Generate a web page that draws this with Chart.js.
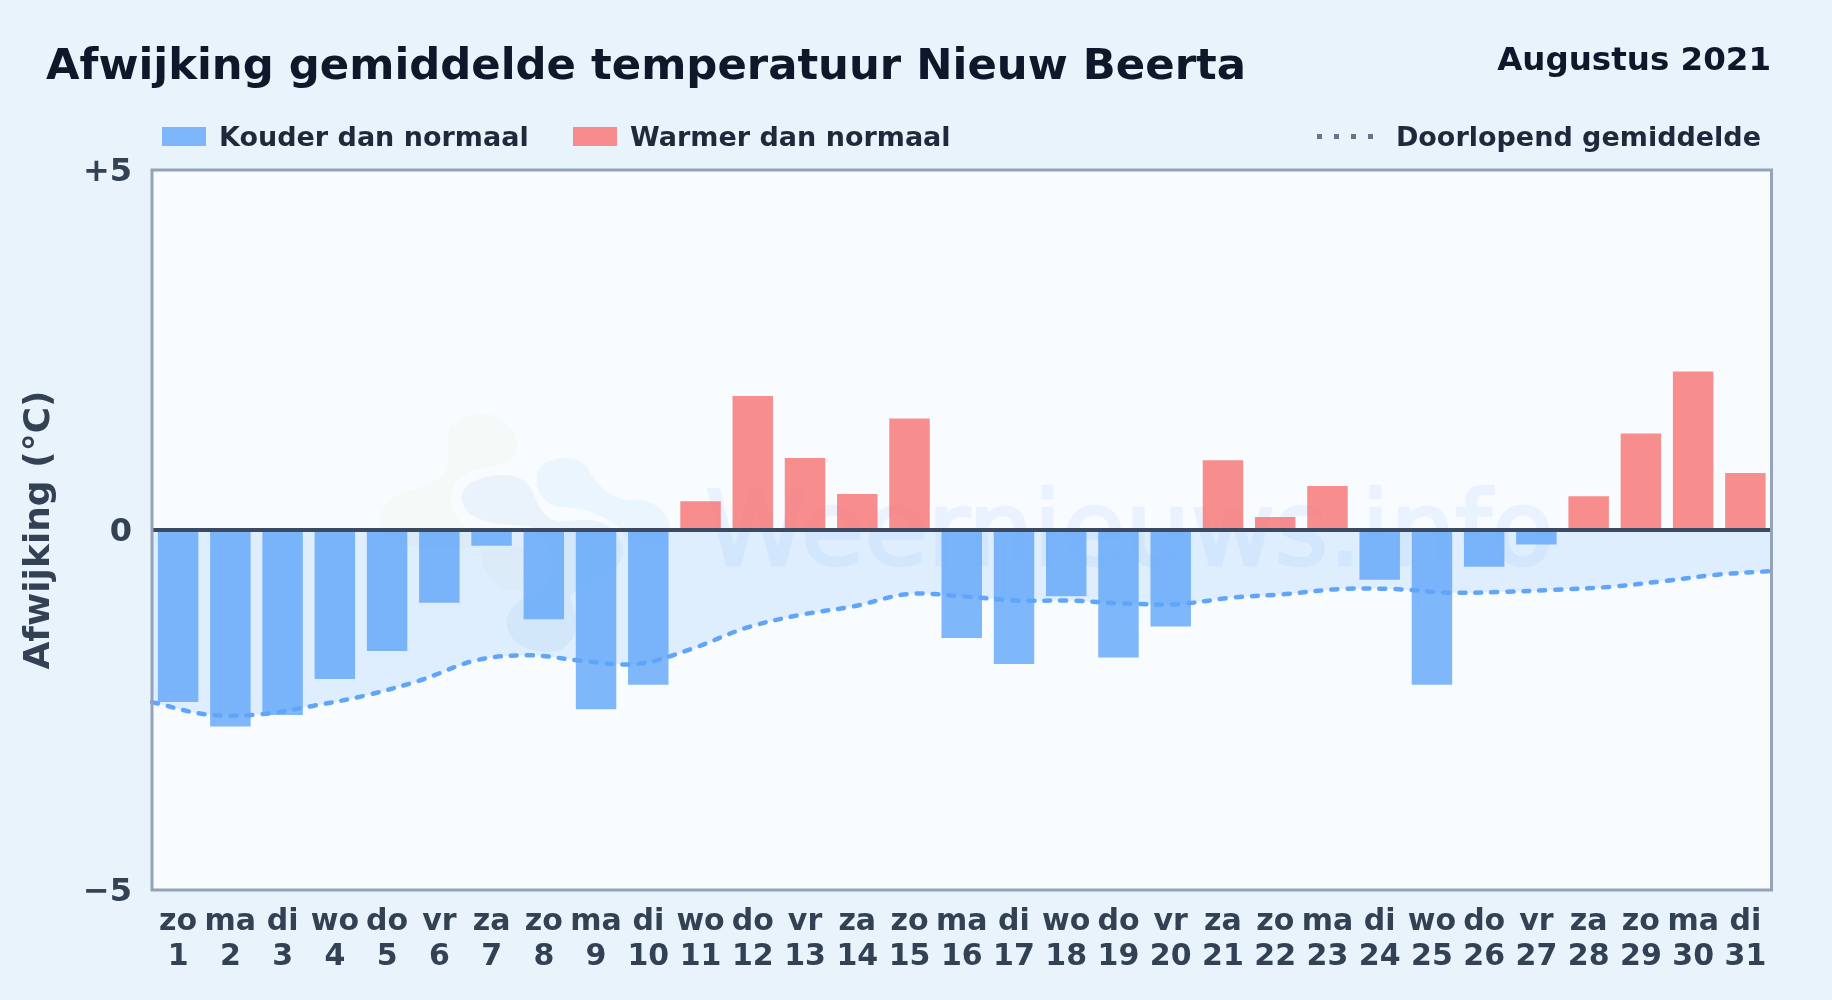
<!DOCTYPE html>
<html>
<head>
<meta charset="utf-8">
<script src="https://cdn.jsdelivr.net/npm/chart.js@4"></script>
<style>
  html, body { margin: 0; padding: 0; }
  body { width: 1832px; height: 1000px; overflow: hidden; background: #e8f3fc; font-family: "DejaVu Sans", sans-serif; font-weight: bold; position: relative; }
  #wrap { position: absolute; left: 0; top: 0; width: 1832px; height: 1000px; }
  .txt { position: absolute; white-space: nowrap; line-height: 1; }
  #title { left: 46px; top: 43px; font-size: 43.35px; color: #0f172a; }
  #period { right: 61px; top: 43px; font-size: 32.5px; color: #0f172a; }
  .lg { top: 122.5px; font-size: 27px; color: #1e293b; }
  .swatch { position: absolute; top: 127px; height: 19px; width: 44px; }
  #dots { position: absolute; left: 1317px; top: 134px; width: 56px; height: 5px;
    background: repeating-linear-gradient(90deg, #64748b 0 5px, transparent 5px 17px); }
</style>
</head>
<body>
<div id="wrap"><canvas id="chart" width="1832" height="1000"></canvas></div>
<div class="txt" id="title">Afwijking gemiddelde temperatuur Nieuw Beerta</div>
<div class="txt" id="period">Augustus 2021</div>
<div class="swatch" style="left:162px;background:#7eb6fb"></div>
<div class="txt lg" style="left:219px">Kouder dan normaal</div>
<div class="swatch" style="left:573px;background:#f88c8d"></div>
<div class="txt lg" style="left:630px">Warmer dan normaal</div>
<div id="dots"></div>
<div class="txt lg" style="right:71px">Doorlopend gemiddelde</div>
<script>
const weekdays = ['zo','ma','di','wo','do','vr','za','zo','ma','di','wo','do','vr','za','zo','ma','di','wo','do','vr','za','zo','ma','di','wo','do','vr','za','zo','ma','di']
const days = ['1','2','3','4','5','6','7','8','9','10','11','12','13','14','15','16','17','18','19','20','21','22','23','24','25','26','27','28','29','30','31']
const deviation = [-2.39,-2.73,-2.57,-2.07,-1.68,-1.01,-0.22,-1.24,-2.49,-2.15,0.4,1.86,1.0,0.5,1.55,-1.5,-1.86,-0.92,-1.77,-1.34,0.97,0.18,0.61,-0.69,-2.15,-0.51,-0.2,0.47,1.34,2.2,0.79]
const runningMean = [-2.39,-2.56,-2.56,-2.44,-2.29,-2.08,-1.81,-1.74,-1.82,-1.86,-1.65,-1.36,-1.18,-1.06,-0.89,-0.92,-0.98,-0.98,-1.02,-1.03,-0.94,-0.89,-0.82,-0.82,-0.87,-0.86,-0.83,-0.79,-0.71,-0.62,-0.57]

const labels = weekdays.map((d, i) => [d, days[i]])

// logo blobs behind the bars
function drawLogo(ctx) {
    ctx.save()
    ctx.translate(360, 390)
    ctx.scale(1 / 3, 1 / 3)
    ctx.fillStyle = 'rgba(190,225,150,0.07)'
    ctx.fill(new Path2D('M60,380 C70,310 170,300 230,270 C280,240 260,180 265,130 C275,80 350,60 400,75 C460,95 490,170 460,205 C430,240 330,220 285,280 C250,340 290,390 340,430 C370,480 360,520 380,550 C400,590 450,610 490,600 L500,470 C380,470 250,480 150,470 C80,450 55,420 60,380 Z'))
    ctx.fillStyle = 'rgba(100,150,210,0.09)'
    ctx.fill(new Path2D('M305,320 C310,265 420,240 480,265 C530,290 520,350 570,385 C610,410 700,360 760,420 C810,480 790,520 740,560 C680,590 640,600 630,620 C650,680 670,740 600,780 C520,800 440,760 440,700 C440,650 490,620 540,600 C600,560 590,470 510,410 C440,400 310,410 305,320 Z'))
    ctx.fillStyle = 'rgba(140,200,250,0.12)'
    ctx.fill(new Path2D('M530,260 C530,210 630,180 680,230 C710,280 740,320 800,330 C870,320 930,360 930,420 C930,470 880,490 800,440 C750,370 650,350 590,350 C540,330 530,300 530,260 Z'))
    ctx.restore()
}

// watermark goes through its own canvas so fill and outline blend as one
function drawWatermark(ctx) {
    const off = document.createElement('canvas')
    off.width = 1832
    off.height = 1000
    const o = off.getContext('2d')
    o.font = '103px "DejaVu Sans"'
    o.fillStyle = o.strokeStyle = 'rgb(59,130,246)'
    o.lineWidth = 3
    o.lineJoin = 'round'
    o.fillText('Weernieuws.info', 705, 565)
    o.strokeText('Weernieuws.info', 705, 565)
    ctx.save()
    ctx.globalAlpha = 0.07
    ctx.drawImage(off, 0, 0)
    ctx.restore()
}

// plot background, watermark and frame
const plotBox = {
    id: 'plotBox',
    beforeDraw(chart) {
        const { ctx, chartArea: a } = chart
        ctx.save()
        ctx.fillStyle = '#f8fcff'
        ctx.fillRect(a.left, a.top, a.width, a.height)
        drawLogo(ctx)
        drawWatermark(ctx)
        ctx.restore()
    },
    afterDraw(chart) {
        const { ctx, chartArea: a } = chart
        ctx.save()
        ctx.strokeStyle = '#94a3b8'
        ctx.lineWidth = 3
        ctx.strokeRect(a.left, a.top, a.width, a.height)
        ctx.restore()
    }
}

new Chart(document.getElementById('chart'), {
    type: 'bar',
    data: {
        labels: labels,
        datasets: [{
            type: 'line',
            label: 'Doorlopend gemiddelde',
            data: runningMean,
            xAxisID: 'xLine',
            borderColor: '#60a5fa',
            borderWidth: 4.5,
            borderDash: [6, 10],
            borderCapStyle: 'round',
            backgroundColor: 'rgba(96,165,250,0.16)',
            fill: 'origin',
            tension: 0.35,
            pointRadius: 0,
            order: 0
        }, {
            label: 'Afwijking',
            data: deviation,
            backgroundColor: deviation.map(v => v < 0 ? 'rgba(96,165,250,0.8)' : 'rgba(248,113,113,0.8)'),
            grouped: false,
            barPercentage: 0.775,
            categoryPercentage: 1,
            order: 1
        }]
    },
    options: {
        responsive: false,
        animation: false,
        layout: { padding: { top: 170, right: 60.5 } },
        plugins: { legend: { display: false }, title: { display: false }, tooltip: { enabled: false } },
        scales: {
            x: {
                grid: { display: false },
                border: { display: false },
                afterFit(scale) { scale.height = 110 },
                ticks: {
                    maxRotation: 0, autoSkip: false, padding: 7,
                    color: '#334155',
                    font: { family: '"DejaVu Sans"', weight: 'bold', size: 30, lineHeight: 1.16 }
                }
            },
            xLine: {
                type: 'category',
                labels: days,
                offset: false,
                display: false
            },
            y: {
                min: -5,
                max: 5,
                border: { display: false },
                afterFit(scale) { scale.width = 152 },
                grid: {
                    z: 1,
                    drawTicks: false,
                    lineWidth: ctx => ctx.tick && ctx.tick.value === 0 ? 4 : 0,
                    color: '#3b4a60'
                },
                ticks: {
                    stepSize: 5,
                    padding: 20,
                    labelOffset: 3,
                    color: '#334155',
                    font: { family: '"DejaVu Sans"', weight: 'bold', size: 32 },
                    callback: v => v > 0 ? '+' + v : v < 0 ? '\u2212' + Math.abs(v) : '0'
                },
                title: {
                    display: true,
                    text: 'Afwijking (°C)',
                    color: '#334155',
                    font: { family: '"DejaVu Sans"', weight: 'bold', size: 36 },
                    padding: { top: 18, bottom: 0 }
                }
            }
        }
    },
    plugins: [plotBox]
})
</script>
</body>
</html>
